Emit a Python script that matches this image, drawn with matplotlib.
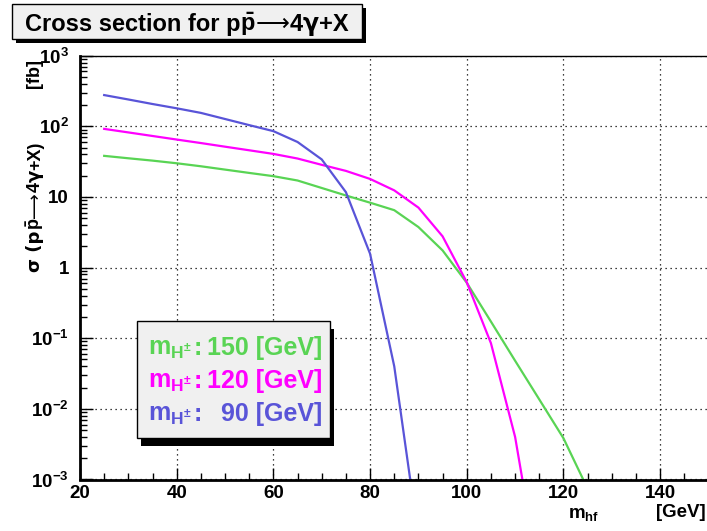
import matplotlib
matplotlib.use('Agg')
import matplotlib.pyplot as plt
from matplotlib.patches import Rectangle
from matplotlib.ticker import FixedLocator, FixedFormatter, LogLocator, MultipleLocator, NullFormatter

plt.rcParams['font.family'] = ['Liberation Sans', 'DejaVu Sans']
plt.rcParams['font.weight'] = 'bold'
plt.rcParams['mathtext.fontset'] = 'custom'
plt.rcParams['mathtext.rm'] = 'Liberation Sans:bold'
plt.rcParams['mathtext.it'] = 'Liberation Sans:bold'
plt.rcParams['mathtext.bf'] = 'Liberation Sans:bold'
plt.rcParams['mathtext.sf'] = 'Liberation Sans:bold'

# m_hf [GeV]
mhf = [25, 30, 35, 40, 45, 50, 55, 60, 65, 70, 75, 80, 85, 90, 95, 100, 105, 110, 115, 120, 125]
# sigma [fb] for each charged higgs mass
sigma_150 = [38.2, 35.3, 32.7, 30, 27.2, 24.4, 21.9, 19.7, 17.1, 13.4, 10.5, 8.3, 6.5, 3.75, 1.75,
             0.61, 0.172, 0.048, 0.0136, 0.00384, 0.00074]
sigma_120 = [92, 82, 73, 65, 58, 51.5, 45.8, 40.7, 35, 28.5, 23.4, 18, 12.4, 7.07, 2.77,
             0.62, 0.085, 0.004, 4e-5]
sigma_90 = [277, 240, 207, 180, 155, 127, 104, 85.5, 60, 34, 11.7, 1.57, 0.04, 1.5e-4]
masses = ['150', '120', '90']
colors = ['#59d454', '#ff00ff', '#5954d8']

ytick_vals = [1e-3, 1e-2, 1e-1, 1, 10, 1e2, 1e3]
ytick_labels = ['$10^{-3}$', '$10^{-2}$', '$10^{-1}$', '1', '10', '$10^{2}$', '$10^{3}$']

W, H = 707, 531
fig = plt.figure(figsize=(W/100, H/100), dpi=100)
rend = fig.canvas.get_renderer()

def fx(px):
    return px / W

def fy(py):
    return 1 - py / H

LS = ['Liberation Sans', 'DejaVu Sans']
DV = ['DejaVu Sans']

def rich(x, y, pieces, size, rot=0, z=7):
    # x, y in pixels (y from top); text pieces placed one after another
    X, Y = fx(x), fy(y)
    for s, fam, wt in pieces:
        t = fig.text(X, Y, s, fontsize=size, family=fam, fontweight=wt, rotation=rot,
                     rotation_mode='anchor', ha='left', va='baseline', zorder=z)
        bb = t.get_window_extent(rend)
        if rot == 0:
            X += bb.width / W
        else:
            Y += bb.height / H

# axes frame in pixels
left, right, top, bottom = 80, 708.5, 55.7, 479.5
ax = fig.add_axes([fx(left), fy(bottom), fx(right-left), (bottom-top)/H])

for s, col in zip([sigma_150, sigma_120, sigma_90], colors):
    ax.plot(mhf[:len(s)], s, color=col, lw=1.6)

ax.set_yscale('log')
ax.set_xlim(20, 150)
ax.set_ylim(1e-3, 1e3)
ax.yaxis.set_major_locator(FixedLocator(ytick_vals))
ax.yaxis.set_major_formatter(FixedFormatter(ytick_labels))
ax.yaxis.set_minor_locator(LogLocator(base=10, subs=range(2, 10), numticks=20))
ax.yaxis.set_minor_formatter(NullFormatter())
ax.xaxis.set_major_locator(MultipleLocator(20))
ax.xaxis.set_minor_locator(MultipleLocator(5))

ax.tick_params(which='both', direction='in', top=False, right=False, labelsize=13.5)
ax.tick_params(which='major', length=9, width=1)
ax.tick_params(which='minor', length=5, width=1)
ax.tick_params(axis='x', pad=4)
ax.tick_params(axis='y', pad=8)
for lab in ax.get_xticklabels() + ax.get_yticklabels():
    lab.set_fontweight('bold')

ax.grid(True, which='major', color='black', lw=0.9, linestyle=(0, (1, 3)))
ax.spines['left'].set_linewidth(2)
ax.spines['bottom'].set_linewidth(2)
ax.spines['top'].set_linewidth(1)
ax.spines['right'].set_linewidth(1)

# title box with shadow
fig.add_artist(Rectangle((fx(16), fy(43)), fx(350), 35/H, transform=fig.transFigure,
                         facecolor='black', edgecolor='none', zorder=5))
fig.add_artist(Rectangle((fx(12), fy(39)), fx(350), 35/H, transform=fig.transFigure,
                         facecolor='#f0f0f0', edgecolor='black', lw=1, zorder=6))
rich(25, 31, [('Cross section for p', LS, 'bold'), (r'$\bar{\mathrm{p}}$', LS, 'bold'),
              ('⟶', DV, 'normal'), ('4', LS, 'bold'), ('γ', DV, 'bold'), ('+X', LS, 'bold')], 17)

# axis titles
rich(40, 271.7, [('σ (p', DV, 'bold'), (r'$\bar{\mathrm{p}}$', LS, 'bold'), ('⟶', DV, 'normal'),
                 ('4', LS, 'bold'), ('γ', DV, 'bold'), ('+X)', LS, 'bold')], 13, rot=90, z=3)
rich(38.5, 88, [('[fb]', LS, 'bold')], 13, rot=90, z=3)
fig.text(fx(568), fy(518), r'm$_{\mathrm{hf}}$', fontsize=13.5, ha='left', va='baseline',
         family=LS, fontweight='bold')
fig.text(fx(706), fy(517), '[GeV]', fontsize=13.5, ha='right', va='baseline',
         family=LS, fontweight='bold')

# legend box with shadow
fig.add_artist(Rectangle((fx(141), fy(446)), fx(193), 117/H, transform=fig.transFigure,
                         facecolor='black', edgecolor='none', zorder=5))
fig.add_artist(Rectangle((fx(137), fy(438.3)), fx(192.5), 117.3/H, transform=fig.transFigure,
                         facecolor='#f0f0f0', edgecolor='black', lw=1, zorder=6))
rows_y = [355, 388, 421]
for m, col, yy in zip(masses, colors, rows_y):
    fig.text(fx(148), fy(yy), r'm$_{\mathrm{H^{\pm}}}$', color=col, fontsize=18,
             ha='left', va='baseline', zorder=7, family=LS, fontweight='bold')
    fig.text(fx(194), fy(yy), ':', color=col, fontsize=18,
             ha='left', va='baseline', zorder=7, family=LS, fontweight='bold')
    fig.text(fx(322), fy(yy), m + ' [GeV]', color=col, fontsize=18,
             ha='right', va='baseline', zorder=7, family=LS, fontweight='bold')

fig.savefig('out.png', dpi=100)
